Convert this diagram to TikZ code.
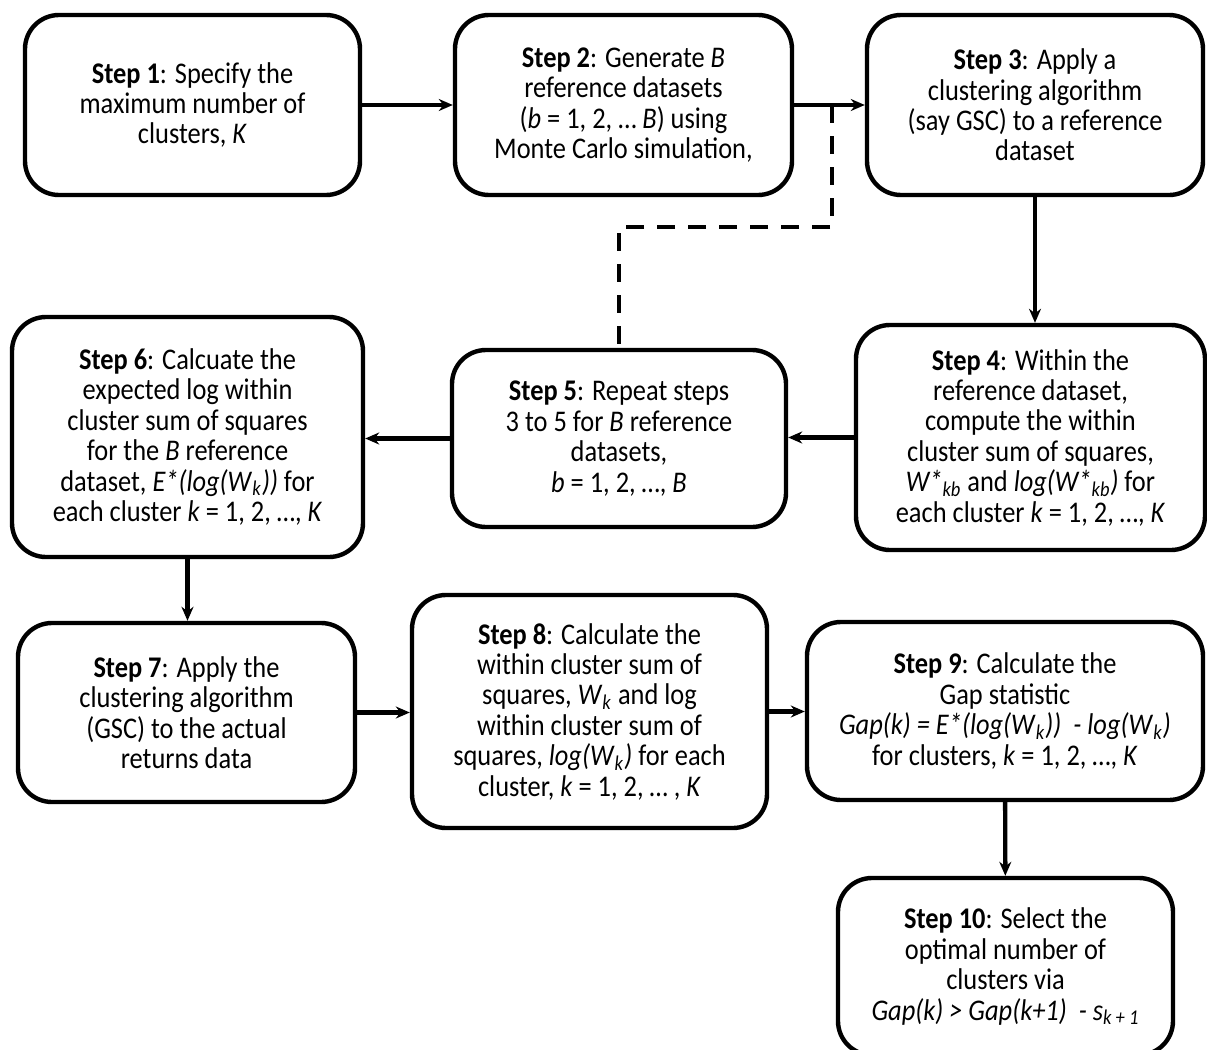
\documentclass[tikz,border=0pt]{standalone}
\usepackage{fontspec}
\setmainfont{Carlito}[FakeStretch=0.88]
\usetikzlibrary{positioning,arrows.meta}
\newcommand{\ksub}[1]{\textsubscript{\textit{#1}}}
\tikzset{
  stepbox/.style={draw, line width=2.2pt, rounded corners=17pt, align=center, inner sep=4pt,
    font=\fontsize{15}{15.2}\selectfont},
  flow/.style={-{Stealth[length=7pt,width=6pt]}, line width=2.2pt},
  back/.style={line width=2.2pt, dash pattern=on 9pt off 6.5pt}
}

\begin{document}
\begin{tikzpicture}[x=0.5pt, y=-0.5pt]
  \useasboundingbox (0,0) rectangle (1207,1050);

  % top row
  \node[stepbox, minimum width=167.5pt, minimum height=90pt] (s1) at (192.5,105)
    {\textbf{Step 1}: Specify the\\maximum number of\\clusters, \textit{K}};
  \node[stepbox, minimum width=168.5pt, minimum height=90pt] (s2) at (623.5,105)
    {\textbf{Step 2}: Generate \textit{B}\\reference datasets\\(\textit{b} = 1, 2, \dots\ \textit{B}) using\\Monte Carlo simulation,};
  \node[stepbox, minimum width=168pt, minimum height=90pt] (s3) at (1035,105)
    {\textbf{Step 3}: Apply a\\clustering algorithm\\(say GSC) to a reference\\dataset};

  % middle row
  \node[stepbox, minimum width=174.5pt, minimum height=112.5pt] (s4) at (1030.5,437.5)
    {\textbf{Step 4}: Within the\\reference dataset,\\compute the within\\cluster sum of squares,\\\textit{W*}\ksub{kb} and \textit{log(W*}\ksub{kb}\textit{)} for\\each cluster \textit{k} = 1, 2, \dots, \textit{K}};
  \node[stepbox, minimum width=167pt, minimum height=88.5pt] (s5) at (619,438.5)
    {\textbf{Step 5}: Repeat steps\\3 to 5 for \textit{B} reference\\datasets,\\\textit{b} = 1, 2, \dots, \textit{B}};
  \node[stepbox, minimum width=175.5pt, minimum height=120pt] (s6) at (187.5,437)
    {\textbf{Step 6}: Calcuate the\\expected log within\\cluster sum of squares\\for the \textit{B} reference\\dataset, \textit{E*(log(W}\ksub{k}\textit{))} for\\each cluster \textit{k} = 1, 2, \dots, \textit{K}};

  % bottom row
  \node[stepbox, minimum width=168.5pt, minimum height=89.5pt] (s7) at (186.5,712.5)
    {\textbf{Step 7}: Apply the\\clustering algorithm\\(GSC) to the actual\\returns data};
  \node[stepbox, minimum width=177.5pt, minimum height=116.5pt] (s8) at (589.5,711.5)
    {\textbf{Step 8}: Calculate the\\within cluster sum of\\squares, \textit{W}\ksub{k} and log\\within cluster sum of\\squares, \textit{log(W}\ksub{k}\textit{)} for each\\cluster, \textit{k} = 1, 2, \dots\ , \textit{K}};
  \node[stepbox, minimum width=198pt, minimum height=89pt] (s9) at (1005,711)
    {\textbf{Step 9}: Calculate the\\Gap statistic\\\textit{Gap(k) = E*(log(W}\ksub{k}\textit{)) \ - log(W}\ksub{k}\textit{)}\\for clusters, \textit{k} = 1, 2, \dots, \textit{K}};
  \node[stepbox, minimum width=167.5pt, minimum height=88.5pt] (s10) at (1005.5,966.5)
    {\textbf{Step 10}: Select the\\optimal number of\\clusters via\\\textit{Gap(k) > Gap(k+1) \ - s}\ksub{k + 1}};

  % connectors
  \draw[flow] (s1) -- (s2);
  \draw[flow] (s2) -- (s3);
  \coordinate (fork) at (832,105);
  \draw[back] (fork) -- ++(0,122) -| (s5.north);
  \draw[flow] (s3) -- (s3 |- s4.north);
  \draw[flow] (s4) -- (s4 -| s5.east);
  \draw[flow] (s5) -- (s5 -| s6.east);
  \draw[flow] (s6) -- (s6 |- s7.north);
  \draw[flow] (s7) -- (s7 -| s8.west);
  \draw[flow] (s8) -- (s8 -| s9.west);
  \draw[flow] (s9) -- (s10);
\end{tikzpicture}
\end{document}
